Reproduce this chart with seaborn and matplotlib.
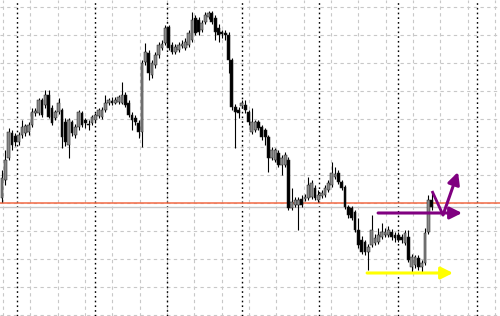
import numpy as np
import pandas as pd
import seaborn as sns
import matplotlib
matplotlib.use("Agg")
import matplotlib.pyplot as plt

# ---- data (price units, higher = up) ----
opens = [118, 136, 158, 183, 180, 174, 181, 183, 184, 191, 203, 203, 216, 211, 221, 208, 198, 204, 206, 194,
         171, 194, 181, 189, 203, 196, 192, 193, 196, 200, 199, 206, 213, 215, 213, 214, 213, 221, 213, 201,
         198, 193, 184, 254, 263, 241, 251, 261, 268, 273, 289, 271, 264, 266, 270, 268, 271, 276, 298, 296,
         286, 294, 299, 303, 298, 288, 284, 283, 281, 256, 209, 206, 210, 211, 204, 184, 186, 194, 189, 186,
         179, 158, 156, 163, 151, 151, 156, 108, 111, 111, 117, 117, 118, 119, 128, 116, 120, 121, 126, 131,
         139, 143, 134, 129, 109, 108, 104, 86, 76, 74, 64, 71, 73, 74, 79, 81, 81, 84, 81, 81,
         79, 73, 79, 49, 51, 58, 49, 53, 84, 116]
closes = [138, 156, 184, 171, 174, 181, 189, 190, 191, 204, 205, 216, 201, 221, 199, 193, 204, 213, 179, 174,
          196, 183, 189, 204, 191, 193, 191, 199, 201, 206, 206, 213, 216, 213, 216, 219, 221, 211, 201, 196,
          194, 184, 253, 264, 243, 253, 261, 271, 272, 288, 268, 264, 269, 271, 272, 274, 283, 296, 283, 284,
          293, 301, 303, 294, 284, 281, 282, 281, 256, 209, 204, 203, 213, 206, 194, 194, 194, 188, 179, 179,
          158, 166, 166, 151, 158, 161, 108, 114, 116, 116, 111, 119, 131, 133, 118, 121, 123, 128, 133, 143,
          142, 134, 128, 109, 101, 98, 86, 71, 64, 64, 69, 86, 78, 81, 84, 84, 86, 79, 78, 76,
          76, 83, 56, 59, 59, 49, 53, 83, 116, 109]
highs = [146, 166, 188, 186, 183, 184, 196, 192, 194, 208, 208, 218, 218, 226, 226, 211, 206, 218, 208, 198,
         198, 196, 192, 206, 205, 198, 196, 201, 203, 208, 209, 221, 218, 219, 219, 221, 234, 224, 216, 204,
         201, 196, 256, 273, 266, 256, 264, 274, 276, 291, 291, 274, 272, 274, 276, 278, 286, 304, 301, 299,
         296, 304, 305, 305, 301, 292, 286, 286, 284, 258, 212, 209, 216, 216, 206, 208, 196, 196, 191, 188,
         181, 169, 168, 166, 161, 164, 159, 128, 119, 119, 121, 122, 139, 136, 131, 126, 126, 131, 136, 154,
         149, 146, 136, 131, 111, 110, 106, 98, 80, 76, 72, 101, 82, 88, 93, 88, 90, 87, 84, 84,
         82, 86, 86, 62, 61, 61, 56, 88, 121, 124]
lows = [114, 131, 156, 166, 170, 171, 178, 180, 181, 189, 200, 201, 199, 208, 198, 191, 196, 202, 168, 170,
        158, 180, 178, 186, 189, 188, 186, 191, 193, 198, 197, 204, 211, 211, 212, 212, 212, 209, 199, 186,
        191, 178, 169, 251, 236, 238, 248, 258, 266, 271, 266, 262, 262, 264, 268, 266, 269, 274, 281, 281,
        284, 292, 297, 292, 276, 274, 278, 276, 243, 206, 168, 198, 208, 203, 191, 182, 184, 186, 176, 171,
        144, 156, 154, 149, 141, 149, 106, 106, 109, 86, 109, 115, 116, 117, 116, 114, 118, 119, 124, 129,
        137, 132, 126, 107, 98, 96, 84, 68, 62, 61, 46, 69, 71, 72, 77, 79, 79, 76, 74, 74,
        73, 71, 54, 44, 48, 46, 44, 51, 82, 106]

level_prices = [113, 109]                 # red level line and grey price line
yellow_x = [109.6, 135.4]; yellow_y = [43, 43]
purple_hx = [112.9, 138.1]; purple_hy = [103, 103]
purple_vx = [129.1, 132.4, 136.9]; purple_vy = [125, 101, 144]

df = pd.DataFrame({"idx": np.arange(len(opens)), "open": opens, "close": closes,
                   "high": highs, "low": lows})
df["bull"] = df["close"] >= df["open"]

sns.set_theme(style="white")
fig = plt.figure(figsize=(5.0, 3.16), dpi=100)
ax = fig.add_axes([0, 0, 1, 1])
XL = (-0.6, 149.5)
ax.set_xlim(*XL)
ax.set_ylim(0, 316)
for s in ax.spines.values():
    s.set_visible(False)
ax.set_xticks([]); ax.set_yticks([])
ax.set_xlabel(""); ax.set_ylabel("")

def px2x(px):
    return XL[0] + px / 500 * (XL[1] - XL[0])

# grid (pixel-spaced like the terminal)
for k in range(19):
    ax.axvline(px2x(3 + 27.33 * k), color="#c8c8c8", lw=0.8, ls=(0, (3, 3)), zorder=0)
for k in range(12):
    ax.axhline(316 - (7 + 28 * k), color="#c8c8c8", lw=0.8, ls=(0, (3, 3)), zorder=0)
for px in [17, 95, 167, 242, 319, 398, 477]:
    ax.axvline(px2x(px), color="#000000", lw=1.0, ls=(0, (1.2, 2.2)), zorder=1)

# level lines
ax.axhline(level_prices[1], color="#c8c8c8", lw=1.0, zorder=2)
ax.axhline(level_prices[0], color="#f36a45", lw=1.1, zorder=2)

# candles: wicks then bodies
ax.vlines(df["idx"], df["low"], df["high"], color="black", lw=0.8, zorder=3)
bot = np.minimum(df["open"], df["close"])
hgt = np.maximum(np.abs(df["close"] - df["open"]), 1.0)
cols = np.where(df["bull"], "#8a8a8a", "#000000")
ax.bar(df["idx"], hgt, bottom=bot, width=0.82, color=cols, edgecolor="#1a1a1a",
       linewidth=0.35, zorder=4)

# drawn objects
ax.annotate("", xy=(yellow_x[1], yellow_y[1]), xytext=(yellow_x[0], yellow_y[0]),
            arrowprops=dict(arrowstyle="-|>,head_length=0.6,head_width=0.3", color="#ffff00",
                            lw=2.2, shrinkA=0, shrinkB=0), zorder=6)
ax.annotate("", xy=(purple_hx[1], purple_hy[1]), xytext=(purple_hx[0], purple_hy[0]),
            arrowprops=dict(arrowstyle="-|>,head_length=0.6,head_width=0.3", color="#800080",
                            lw=2.2, shrinkA=0, shrinkB=0), zorder=6)
ax.plot(purple_vx[:2], purple_vy[:2], color="#800080", lw=2.0, solid_capstyle="butt", zorder=6)
ax.annotate("", xy=(purple_vx[2], purple_vy[2]), xytext=(purple_vx[1], purple_vy[1]),
            arrowprops=dict(arrowstyle="-|>,head_length=0.6,head_width=0.3", color="#800080",
                            lw=2.2, shrinkA=0, shrinkB=0), zorder=6)

fig.savefig("out.png", dpi=100)
